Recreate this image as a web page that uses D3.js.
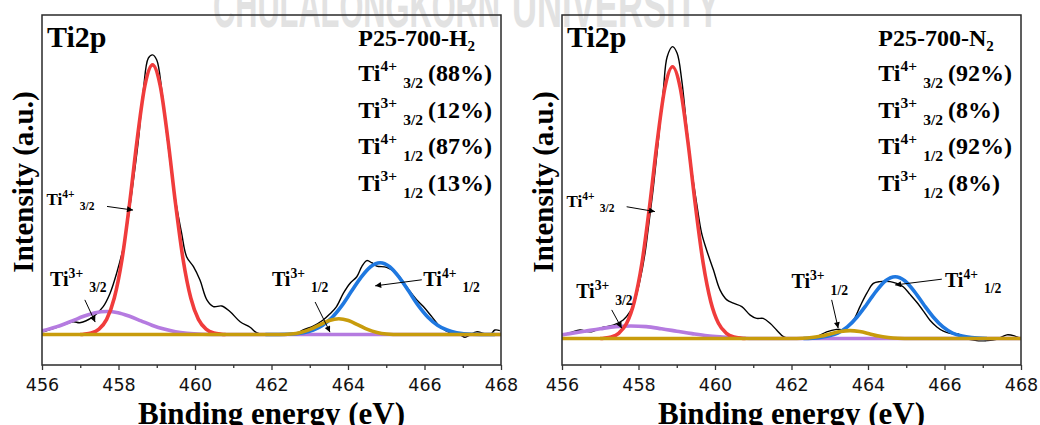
<!DOCTYPE html>
<html><head><meta charset="utf-8">
<script src="https://cdn.jsdelivr.net/npm/d3@7"></script>
<style>body{margin:0;background:#fff;} svg{display:block;}</style>
</head><body><svg id="c" width="1040" height="425"></svg>
<script>
// ---------------- data ----------------
const energyTicks = [456, 458, 460, 462, 464, 466, 468];
const minorTicks = [457, 459, 461, 463, 465, 467];
const sampleNames = ["P25-700-H", "P25-700-N"];
const stateSup = ["4+", "3+", "4+", "3+"];
const stateSub = ["3/2", "3/2", "1/2", "1/2"];
const h2Percent = ["88%", "12%", "87%", "13%"];
const n2Percent = ["92%", "8%", "92%", "8%"];

// measured envelope (energy eV, intensity a.u.)
const h2Envelope = [[456.03,0.9],[456.39,2.4],[456.82,4.2],[456.99,3.9],[457.34,5.9],[457.60,9.2],[457.78,13.6],[457.95,20.1],[458.13,28.9],[458.26,38.7],[458.39,50.8],[458.52,63.9],[458.65,80.4],[458.78,90.8],[458.89,91.9],[459.00,90.2],[459.13,80.4],[459.26,66.1],[459.39,53.0],[459.52,42.0],[459.65,33.3],[459.78,25.6],[459.96,22.3],[460.13,17.9],[460.31,11.4],[460.48,9.2],[460.70,9.4],[460.92,7.5],[461.18,4.2],[461.44,2.4],[461.61,0.6],[461.80,-0.1],[462.20,-0.1],[462.60,0.0],[462.83,1.5],[463.09,2.8],[463.35,4.8],[463.53,6.8],[463.70,9.2],[463.88,13.6],[464.05,16.8],[464.23,19.0],[464.36,22.3],[464.49,24.3],[464.62,23.6],[464.75,22.5],[465.01,22.1],[465.27,20.1],[465.53,15.7],[465.80,11.4],[465.97,9.2],[466.19,5.9],[466.41,2.6],[466.67,0.6],[466.93,-0.1],[467.06,-0.9],[467.19,-0.1],[467.36,0.9],[467.54,0.4],[467.71,-0.1],[467.84,1.5],[467.97,1.3]];
const h2Ti4_32 = [[457.0,0],[457.09,0.1],[457.29,0.5],[457.49,1.8],[457.69,5.0],[457.89,12.0],[458.09,24.6],[458.29,43.1],[458.49,64.3],[458.69,81.8],[458.89,88.6],[459.09,81.8],[459.29,64.3],[459.49,43.1],[459.69,24.6],[459.89,12.0],[460.09,5.0],[460.29,1.8],[460.49,0.5],[460.69,0.1],[460.8,0]];
const h2Ti3_32 = [[456.0,1.2],[456.39,2.6],[456.79,4.5],[457.09,6.0],[457.39,7.2],[457.69,7.6],[457.99,7.2],[458.29,6.0],[458.59,4.5],[458.89,3.0],[459.19,1.8],[459.49,0.9],[459.79,0.4],[460.19,0.1],[460.7,0],[468.0,0]];
const h2Ti4_12 = [[461.84,0],[462.44,0.1],[462.84,0.6],[463.09,1.5],[463.34,3.1],[463.59,5.7],[463.84,9.5],[464.09,14.2],[464.34,18.8],[464.59,22.3],[464.84,23.6],[465.09,22.3],[465.34,18.8],[465.59,14.2],[465.84,9.5],[466.09,5.7],[466.34,3.1],[466.59,1.5],[466.84,0.6],[467.24,0.1],[467.84,0]];
const h2Ti3_12 = [[456.0,0],[462.16,0],[462.51,0.2],[462.76,0.7],[463.01,1.7],[463.26,3.2],[463.51,4.6],[463.76,5.2],[464.01,4.6],[464.26,3.2],[464.51,1.7],[464.76,0.7],[465.01,0.2],[465.36,0],[468.0,0]];

const n2Envelope = [[456.00,1.2],[456.21,1.9],[456.47,2.8],[456.73,2.2],[457.08,3.7],[457.34,4.4],[457.60,6.1],[457.78,8.8],[457.91,12.7],[458.04,19.2],[458.17,28.0],[458.26,36.7],[458.39,49.9],[458.52,65.2],[458.65,81.7],[458.75,92.6],[458.89,95.9],[459.01,93.7],[459.13,84.9],[459.26,69.6],[459.39,55.4],[459.52,44.4],[459.65,34.6],[459.78,29.1],[459.96,22.5],[460.13,16.0],[460.31,12.7],[460.48,11.6],[460.70,10.5],[460.92,7.7],[461.09,6.6],[461.26,6.6],[461.44,5.0],[461.61,2.8],[461.79,0.6],[461.96,-0.1],[462.31,-0.1],[462.66,0.6],[462.92,2.2],[463.18,3.0],[463.35,3.0],[463.62,6.1],[463.79,10.5],[463.97,14.9],[464.14,18.1],[464.31,18.7],[464.58,18.7],[464.75,18.1],[464.92,17.0],[465.10,14.5],[465.27,12.0],[465.45,9.0],[465.62,6.0],[465.80,3.8],[465.97,2.4],[466.14,1.7],[466.36,1.5],[466.49,0.4],[466.84,-0.7],[467.10,-0.7],[467.36,-0.3],[467.63,1.2],[467.84,0.8],[467.97,0.1]];
const n2Ti4_32 = [[457.0,0],[457.09,0.1],[457.29,0.5],[457.49,1.8],[457.69,5.0],[457.89,12.1],[458.09,24.8],[458.29,43.5],[458.49,64.8],[458.69,82.4],[458.89,89.3],[459.09,82.4],[459.29,64.8],[459.49,43.5],[459.69,24.8],[459.89,12.1],[460.09,5.0],[460.29,1.8],[460.49,0.5],[460.69,0.1],[460.8,0]];
const n2Ti3_32 = [[456.0,1.2],[456.2,1.6],[456.6,2.4],[457.0,3.2],[457.4,3.9],[457.8,4.1],[458.2,3.9],[458.6,3.2],[459.0,2.4],[459.4,1.6],[459.8,0.9],[460.2,0.5],[460.6,0.2],[461.1,0],[468.0,0]];
const n2Ti4_12 = [[462.31,0],[462.71,0.3],[462.96,0.8],[463.21,1.8],[463.46,3.8],[463.71,7.0],[463.96,11.1],[464.21,15.5],[464.46,19.0],[464.71,20.3],[464.96,19.0],[465.21,15.5],[465.46,11.1],[465.71,7.0],[465.96,3.8],[466.21,1.8],[466.46,0.8],[466.71,0.3],[467.11,0]];
const n2Ti3_12 = [[456.0,0],[462.0,0],[462.28,0.1],[462.53,0.35],[462.78,0.8],[463.03,1.6],[463.28,2.3],[463.53,2.6],[463.78,2.3],[464.03,1.6],[464.28,0.8],[464.53,0.35],[464.78,0.1],[465.13,0],[468.0,0]];

// ---------------- layout ----------------
const svg = d3.select("#c");
const serif = "'Liberation Serif','Times New Roman',serif";
const colors = {t4_32:"#f03c3c", t3_32:"#b57be0", t4_12:"#1f78e0", t3_12:"#c89c0c"};

// watermark (tall condensed letters, top cut by the page edge)
[["CHULALONGKORN",213,287],["UNIVERSITY",512,208]].forEach(([w,x0,len]) => {
  svg.append("g").attr("transform",`translate(${x0},27) scale(1,1.5)`)
    .append("text").attr("x",0).attr("y",0).attr("textLength",len).attr("lengthAdjust","spacingAndGlyphs")
    .attr("font-family","'Liberation Sans',Arial,sans-serif").attr("font-weight","bold").attr("font-size",40)
    .attr("fill","#e2e2e2").text(w);
});

const panels = [
  {left:42, yDomain:[-10,105], name:sampleNames[0], pct:h2Percent, env:h2Envelope,
   comps:[[h2Ti3_32,colors.t3_32],[h2Ti4_32,colors.t4_32],[h2Ti4_12,colors.t4_12],[h2Ti3_12,colors.t3_12]],
   notes:[
     {sup:"4+",sub:"3/2",E:456.12,v:42.6,s:17,a:[[457.70,42.1],[458.38,40.9]]},
     {sup:"3+",sub:"3/2",E:456.21,v:16.0,s:20,a:[[457.12,11.4],[457.39,4.1]]},
     {sup:"3+",sub:"1/2",E:462.01,v:16.0,s:20,a:[[463.14,10.7],[463.53,0.8]]},
     {sup:"4+",sub:"1/2",E:465.97,v:16.0,s:20,a:[[465.93,18.0],[464.71,16.0]]}]},
  {left:562, yDomain:[-8.7,106.3], name:sampleNames[1], pct:n2Percent, env:n2Envelope,
   comps:[[n2Ti3_32,colors.t3_32],[n2Ti4_32,colors.t4_32],[n2Ti4_12,colors.t4_12],[n2Ti3_12,colors.t3_12]],
   notes:[
     {sup:"4+",sub:"3/2",E:456.12,v:43.3,s:17,a:[[457.69,43.3],[458.43,41.7]]},
     {sup:"3+",sub:"3/2",E:456.37,v:13.2,s:20,a:[[457.30,9.4],[457.56,3.4]]},
     {sup:"3+",sub:"1/2",E:462.0,v:16.5,s:20,a:[[463.05,12.7],[463.22,3.4]]},
     {sup:"4+",sub:"1/2",E:466.01,v:16.9,s:20,a:[[465.93,19.5],[464.71,17.6]]}]}
];
const subChar = ["2","2"];

const defs = svg.append("defs");
defs.append("marker").attr("id","ah").attr("viewBox","0 0 10 10").attr("refX",10).attr("refY",5)
  .attr("markerWidth",7).attr("markerHeight",6).attr("markerUnits","userSpaceOnUse").attr("orient","auto")
  .append("path").attr("d","M0,0 L10,5 L0,10 Z").attr("fill","#000");

const panelTop = 15, W = 459, H = 350;

panels.forEach((p, pi) => {
  const g = svg.append("g").attr("transform",`translate(${p.left},${panelTop})`);
  const x = d3.scaleLinear().domain([456,468]).range([0,W]);
  const y = d3.scaleLinear().domain(p.yDomain).range([H,0]);
  defs.append("clipPath").attr("id","clip"+pi).append("rect").attr("width",W).attr("height",H);
  const plot = g.append("g").attr("clip-path",`url(#clip${pi})`);

  const envLine = d3.line().x(d=>x(d[0])).y(d=>y(d[1])).curve(d3.curveCatmullRom.alpha(0.5));
  const compLine = d3.line().x(d=>x(d[0])).y(d=>y(d[1])).curve(d3.curveMonotoneX);
  plot.append("path").datum(p.env).attr("d",envLine).attr("fill","none").attr("stroke","#000").attr("stroke-width",1.4);
  p.comps.forEach(([data,col]) => {
    plot.append("path").datum(data).attr("d",compLine).attr("fill","none").attr("stroke",col)
      .attr("stroke-width",3.6).attr("stroke-linejoin","round");
  });

  // frame
  g.append("rect").attr("width",W).attr("height",H).attr("fill","none").attr("stroke","#2a2a2a").attr("stroke-width",1.5);

  // axis
  const ax = g.append("g").attr("transform",`translate(0,${H})`)
    .call(d3.axisBottom(x).tickValues(energyTicks).tickSize(5).tickSizeOuter(0).tickPadding(9).tickFormat(d3.format("d")));
  ax.select(".domain").remove();
  ax.selectAll("line").attr("stroke","#333").attr("stroke-width",1.3);
  ax.selectAll("text").attr("font-family","'DejaVu Sans',Verdana,sans-serif").attr("font-size",17.5).attr("fill","#111");
  const mx = g.append("g").attr("transform",`translate(0,${H})`)
    .call(d3.axisBottom(x).tickValues(minorTicks).tickSize(3).tickSizeOuter(0).tickFormat(""));
  mx.select(".domain").remove();
  mx.selectAll("line").attr("stroke","#333").attr("stroke-width",1.3);

  // axis titles
  g.append("text").attr("x",W/2).attr("y",H+59).attr("text-anchor","middle")
    .attr("font-family",serif).attr("font-weight","bold").attr("font-size",31).text("Binding energy (eV)");
  g.append("text").attr("transform",`translate(-9,${H/2-8}) rotate(-90)`).attr("text-anchor","middle")
    .attr("font-family",serif).attr("font-weight","bold").attr("font-size",29).text("Intensity (a.u.)");

  // Ti2p
  g.append("text").attr("x",5).attr("y",31.7).attr("font-family",serif).attr("font-weight","bold")
    .attr("font-size",30).text("Ti2p");

  // sample block
  const bx = 316.3;
  const t0 = g.append("text").attr("x",bx).attr("y",31).attr("font-family",serif).attr("font-weight","bold").attr("font-size",24);
  t0.append("tspan").text(p.name);
  t0.append("tspan").attr("font-size",15).attr("dy",5).text(subChar[pi]);
  const lineY = [66, 102.5, 139, 175.5];
  p.pct.forEach((pc, i) => {
    const t = g.append("text").attr("x",bx).attr("y",lineY[i]).attr("font-family",serif).attr("font-weight","bold").attr("font-size",24);
    t.append("tspan").text("Ti");
    t.append("tspan").attr("font-size",15.5).attr("dy",-10).text(stateSup[i]);
    t.append("tspan").attr("font-size",15.5).attr("dx",6).attr("dy",17).text(stateSub[i]);
    t.append("tspan").attr("dx",5).attr("dy",-7).text("(" + pc + ")");
  });

  // annotations
  p.notes.forEach(n => {
    const s = n.s;
    const t = g.append("text").attr("x",x(n.E)).attr("y",y(n.v)).attr("font-family",serif).attr("font-weight","bold").attr("font-size",s);
    t.append("tspan").text("Ti");
    t.append("tspan").attr("font-size",s*0.68).attr("dy",-s*0.4).text(n.sup);
    t.append("tspan").attr("font-size",s*0.68).attr("dx",s*0.3).attr("dy",s*0.72).text(n.sub);
    g.append("line").attr("x1",x(n.a[0][0])).attr("y1",y(n.a[0][1])).attr("x2",x(n.a[1][0])).attr("y2",y(n.a[1][1]))
      .attr("stroke","#000").attr("stroke-width",1).attr("marker-end","url(#ah)");
  });
});
</script></body></html>
